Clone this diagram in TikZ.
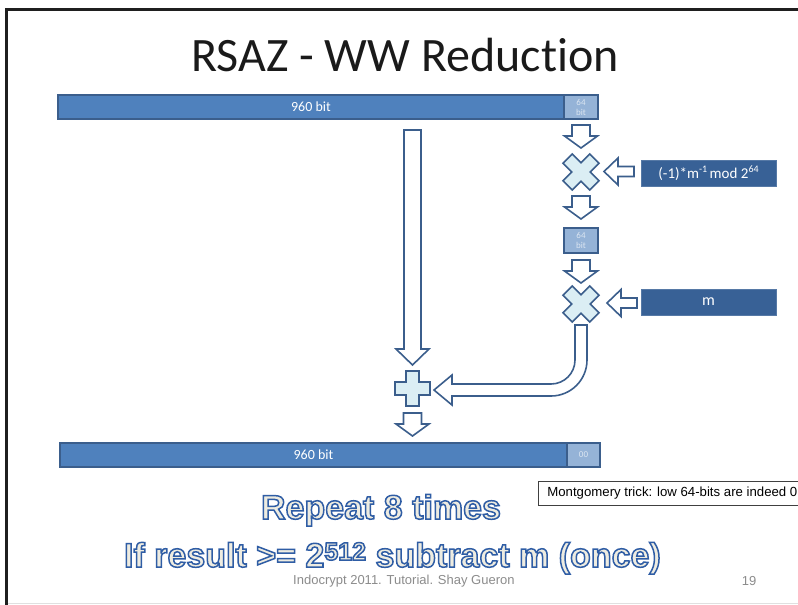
\documentclass[tikz,border=0pt]{standalone}
\usepackage{fontspec}
\setmainfont[Ligatures={TeX,NoCommon}]{Carlito}
\newfontfamily\arialfont{Liberation Sans}

\definecolor{barblue}{HTML}{4F81BD}
\definecolor{edgeblue}{HTML}{3B5E8C}
\definecolor{lowblue}{HTML}{95B3D7}
\definecolor{paleblue}{HTML}{DCE6F2}
\definecolor{constblue}{HTML}{386196}
\definecolor{opfill}{HTML}{DBEEF4}
\definecolor{cream}{HTML}{EEECE1}
\definecolor{footgray}{HTML}{8C8C8C}
\definecolor{titleink}{HTML}{1A1A1A}

\newcommand{\supnum}[1]{\raisebox{0.42em}{\fontsize{10}{10}\selectfont #1}}
% outlined lettering: fill in the current colour, stroke in blue
\newcommand{\outlined}[1]{\special{pdf:code 2 Tr 1.5 w 0.184 0.365 0.647 RG}#1\special{pdf:code 0 Tr}}

\begin{document}
\begin{tikzpicture}[x=1pt,y=-1pt,
  bar/.style={draw=edgeblue, fill=barblue, line width=1.6pt, inner sep=0pt,
    text=white, font=\fontsize{14}{14}\selectfont},
  lowbits/.style={draw=edgeblue, fill=lowblue, line width=1.6pt, inner sep=0pt,
    text=paleblue, align=center, font=\fontsize{9}{10}\selectfont,
    minimum width=34pt, minimum height=24pt},
  constbox/.style={fill=constblue, draw=constblue!85!white, line width=0.8pt,
    inner sep=0pt, text=white, minimum width=135pt, minimum height=26pt},
  blockarrow/.style={draw=edgeblue, fill=white, line width=1.6pt, line join=miter},
  opshape/.style={draw=edgeblue, fill=opfill, line width=1.6pt, line join=miter},
  banner/.style={inner sep=0pt, text=cream,
    font=\arialfont\bfseries\fontsize{34}{34}\selectfont},
  footer/.style={inner sep=0pt, text=footgray, font=\arialfont\fontsize{13}{13}\selectfont},
  pics/downblock/.style={code={
    \draw[blockarrow] (-9,0) -- (9,0) -- (9,11) -- (16.5,11) -- (0,23)
      -- (-16.5,11) -- (-9,11) -- cycle;}},
  pics/leftblock/.style={code={
    \draw[blockarrow] (0,0) -- (14,-13.5) -- (14,-5) -- (30,-5) -- (30,5)
      -- (14,5) -- (14,13.5) -- cycle;}},
  pics/timesop/.style={code={
    \draw[opshape] (8.8,18) -- (18,8.8) -- (9.2,0) -- (18,-8.8) -- (8.8,-18)
      -- (0,-9.2) -- (-8.8,-18) -- (-18,-8.8) -- (-9.2,0) -- (-18,8.8)
      -- (-8.8,18) -- (0,9.2) -- cycle;}},
  pics/plusop/.style={code={
    \draw[opshape] (-6.5,-17.5) -- (6.5,-17.5) -- (6.5,-6.5) -- (17.5,-6.5)
      -- (17.5,6.5) -- (6.5,6.5) -- (6.5,17.5) -- (-6.5,17.5) -- (-6.5,6.5)
      -- (-17.5,6.5) -- (-17.5,-6.5) -- (-6.5,-6.5) -- cycle;}}
]
\useasboundingbox (0,0) rectangle (798,605);
\fill[white] (0,0) rectangle (798,605);

% slide frame
\fill[black!88] (5,8) rectangle (8,605);
\fill[black!88] (5,8) rectangle (798,11);
\draw[black!12, line width=1pt] (8,603.5) -- (798,603.5);

% title
\node[anchor=base, inner sep=0pt, text=titleink, font=\fontsize{48}{48}\selectfont]
  (title) at (405,71) {RSAZ - WW Reduction};

% input operand
\node[bar, minimum width=506pt, minimum height=24pt] (topbar) at (311,107) {960 bit};
\node[lowbits] (toplow) at (581,107) {64\\bit};

% first multiplication: q = low64 * (-m^-1) mod 2^64
\pic at (581,125) {downblock};
\coordinate (mul1) at (581,172);
\pic at (mul1) {timesop};
\node[constbox, font=\fontsize{15}{15}\selectfont] (minv) at (708.5,173)
  {(-1)*m\supnum{-1}\,mod 2\supnum{64}};
\pic at (604,171.5) {leftblock};

\pic at (581,196) {downblock};
\node[lowbits, minimum height=25pt] (qlow) at (581,240.5) {64\\bit};
\pic at (581,260) {downblock};

% second multiplication: q * m
\coordinate (mul2) at (581,304);
\pic at (mul2) {timesop};
\node[constbox, font=\fontsize{16}{16}\selectfont] (modm) at (708.5,302) {m};
\pic at (607,303) {leftblock};

% bent arrow from q*m into the adder
\draw[blockarrow] (575,325) -- (587,325) -- (587,360)
  .. controls (587,379.9) and (570.9,396) .. (551,396)
  -- (452,396) -- (452,405) -- (434,390) -- (452,375) -- (452,384) -- (551,384)
  .. controls (564.3,384) and (575,373.3) .. (575,360) -- cycle;

% long arrow carrying the operand down to the adder
\draw[blockarrow] (404,130) -- (421,130) -- (421,349) -- (429,349) -- (412.5,365)
  -- (396,349) -- (404,349) -- cycle;

% adder
\coordinate (sum) at (412.5,388.5);
\pic at (sum) {plusop};
\pic at (412.5,413) {downblock};

% result
\node[bar, minimum width=507pt, minimum height=24pt] (botbar) at (313.5,455) {960 bit};
\node[lowbits, minimum width=33pt, font=\fontsize{9}{9}\selectfont] (botlow) at (583.5,455) {00};

% side remark
\node[anchor=west, draw=black!75, line width=0.8pt, fill=white, inner xsep=9pt,
  minimum height=24pt, text=black, font=\arialfont\fontsize{13.2}{13.2}\selectfont]
  (note) at (538,493) {Montgomery trick: low 64-bits are indeed 0};

% banner lines
\node[banner, anchor=base] (rep) at (381,519) {\outlined{Repeat 8 times}};
\node[banner, anchor=base east] (fin) at (661,567)
  {\raisebox{0pt}[\height][0pt]{\outlined{If result >= 2\raisebox{7pt}{\fontsize{25}{25}\selectfont 512} subtract m (once)}}};

% footer
\node[footer, anchor=base west] (foot) at (293,584.5) {Indocrypt 2011. Tutorial. Shay Gueron};
\node[footer, anchor=base] (page) at (749,585) {19};
\end{tikzpicture}
\end{document}
